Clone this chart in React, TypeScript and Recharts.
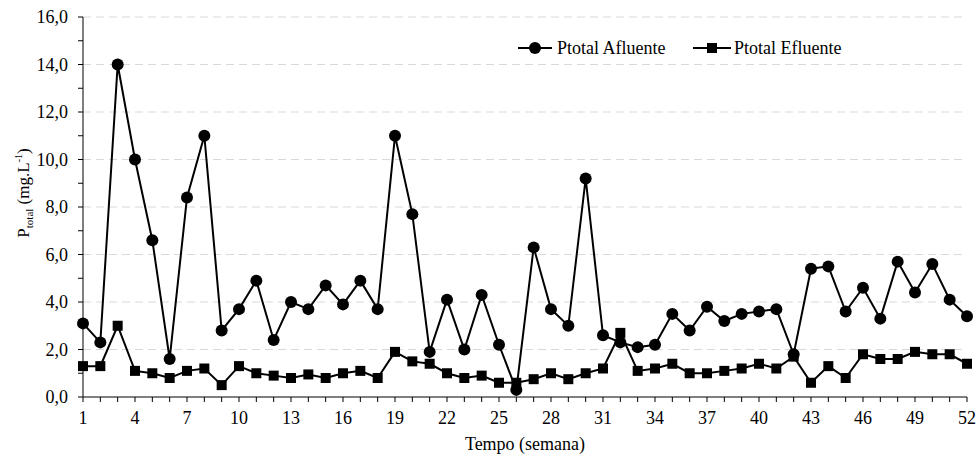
import { LineChart, Line, XAxis, YAxis, CartesianGrid, Label } from "recharts"

const weeks = Array.from({ length: 52 }, (_, i) => i + 1)

const afluente = [
	3.1, 2.3, 14.0, 10.0, 6.6, 1.6, 8.4, 11.0, 2.8, 3.7, 4.9, 2.4, 4.0, 3.7, 4.7, 3.9, 4.9, 3.7,
	11.0, 7.7, 1.9, 4.1, 2.0, 4.3, 2.2, 0.3, 6.3, 3.7, 3.0, 9.2, 2.6, 2.3, 2.1, 2.2, 3.5, 2.8,
	3.8, 3.2, 3.5, 3.6, 3.7, 1.8, 5.4, 5.5, 3.6, 4.6, 3.3, 5.7, 4.4, 5.6, 4.1, 3.4,
]

const efluente = [
	1.3, 1.3, 3.0, 1.1, 1.0, 0.8, 1.1, 1.2, 0.5, 1.3, 1.0, 0.9, 0.8, 0.95, 0.8, 1.0, 1.1, 0.8,
	1.9, 1.5, 1.4, 1.0, 0.8, 0.9, 0.6, 0.6, 0.75, 1.0, 0.75, 1.0, 1.2, 2.7, 1.1, 1.2, 1.4, 1.0,
	1.0, 1.1, 1.2, 1.4, 1.2, 1.7, 0.6, 1.3, 0.8, 1.8, 1.6, 1.6, 1.9, 1.8, 1.8, 1.4,
]

const yTicks = Array.from({ length: 17 }, (_, i) => i)
const gridValues = [2, 4, 6, 8, 10, 12, 14, 16]

const data = weeks.map((w, i) => ({ week: w, afluente: afluente[i], efluente: efluente[i] }))

const font = "Liberation Serif, Times New Roman, serif"

function SquareDot(props: any) {
	const { cx, cy } = props
	if (cx == null || cy == null) return null
	return <rect x={cx - 5} y={cy - 5} width={10} height={10} fill="#000" />
}

// legend drawn on top of the chart (recharts' Legend would steal plot space)
function LegendBox() {
	return (
		<svg
			width={360}
			height={24}
			style={{ position: "absolute", left: 518, top: 36, fontFamily: font, fontSize: 18 }}
		>
			<line x1={0} x2={34} y1={12} y2={12} stroke="#000" strokeWidth={2} />
			<circle cx={17} cy={12} r={6} fill="#000" />
			<text x={39} y={18} fill="#000" style={{ fontFamily: font }}>Ptotal Afluente</text>
			<line x1={175} x2={213} y1={12} y2={12} stroke="#000" strokeWidth={2} />
			<rect x={189} y={7} width={10} height={10} fill="#000" />
			<text x={216} y={18} fill="#000" style={{ fontFamily: font }}>Ptotal Efluente</text>
		</svg>
	)
}

// rotated y title with subscript/superscript
function YTitle() {
	const cx = 29
	const cy = 193
	return (
		<text
			x={cx}
			y={cy}
			transform={`rotate(-90, ${cx}, ${cy})`}
			textAnchor="middle"
			style={{ fontFamily: font, fontSize: 17 }}
			fill="#000"
		>
			<tspan>P</tspan>
			<tspan dy={4} fontSize={11}>total</tspan>
			<tspan dy={-4}> (mg.L</tspan>
			<tspan dy={-7} fontSize={10}>-1</tspan>
			<tspan dy={7}>)</tspan>
		</text>
	)
}

function XTitle(props: any) {
	const { viewBox } = props
	return (
		<text
			x={viewBox.x + viewBox.width / 2}
			y={450}
			textAnchor="middle"
			style={{ fontFamily: font, fontSize: 18 }}
			fill="#000"
		>
			Tempo (semana)
		</text>
	)
}

export default function App() {
	return (
		<div style={{ position: "absolute", left: 0, top: 0, width: 978, height: 454, background: "#fff", fontFamily: font }}>
			<LineChart
				width={978}
				height={454}
				data={data}
				margin={{ top: 17, right: 11, bottom: 12, left: 23 }}
			>
				<CartesianGrid
					vertical={false}
					horizontalValues={gridValues}
					stroke="#d9d9d9"
					strokeDasharray="8 5"
				/>
				<XAxis
					dataKey="week"
					type="number"
					domain={[1, 52]}
					ticks={weeks}
					interval={0}
					height={45}
					tickSize={5}
					tickMargin={9}
					stroke="#000"
					tick={{ fill: "#000", fontFamily: font, fontSize: 18 }}
					tickFormatter={(v) => ((v - 1) % 3 === 0 ? String(v) : "")}
				>
					<Label content={<XTitle />} />
				</XAxis>
				<YAxis
					type="number"
					domain={[0, 16]}
					ticks={yTicks}
					interval={0}
					width={60}
					tickSize={5}
					tickMargin={10}
					stroke="#000"
					tick={{ fill: "#000", fontFamily: font, fontSize: 18 }}
					tickFormatter={(v) => (v % 2 === 0 ? v.toFixed(1).replace(".", ",") : "")}
				>
					<Label content={<YTitle />} />
				</YAxis>
				<Line
					dataKey="afluente"
					name="Ptotal Afluente"
					stroke="#000"
					strokeWidth={2}
					dot={{ r: 6, fill: "#000", stroke: "#000", strokeWidth: 0 }}
					activeDot={false}
					isAnimationActive={false}
				/>
				<Line
					dataKey="efluente"
					name="Ptotal Efluente"
					stroke="#000"
					strokeWidth={2}
					dot={<SquareDot />}
					activeDot={false}
					isAnimationActive={false}
				/>
			</LineChart>
			<LegendBox />
		</div>
	)
}
